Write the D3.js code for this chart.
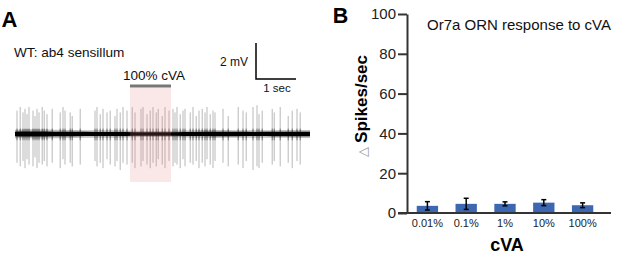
<!DOCTYPE html>
<html>
<head>
<meta charset="utf-8">
<script src="https://cdn.jsdelivr.net/npm/d3@7"></script>
<style>
  body { margin: 0; background: #fff; }
  text { font-family: "Liberation Sans", Arial, Helvetica, sans-serif; }
</style>
</head>
<body>
<script>
// ---- panel A: spike trace (times in sec, amplitudes in mV) ----
const spikeTimes = [
  0.05, 0.13, 0.20, 0.25, 0.30, 0.35, 0.45, 0.50, 0.55, 0.60,
  0.68, 0.73, 0.80, 0.93, 1.13, 1.20, 1.25, 1.38, 1.43, 1.63,
  2.00, 2.05, 2.13, 2.20, 2.30, 2.38, 2.50, 2.55, 2.63, 2.70,
  2.80, 2.93, 3.00, 3.15, 3.20, 3.30, 3.38, 3.45, 3.53, 3.58,
  3.68, 3.75, 3.85, 3.95, 4.00, 4.05, 4.13, 4.20, 4.25, 4.38,
  4.45, 4.53, 4.60, 4.68, 4.75, 4.80, 4.88, 4.95, 5.00, 5.20,
  5.33, 5.58, 5.70, 5.78, 5.95, 6.05, 6.10, 6.18, 6.43, 6.48,
  6.63, 6.83, 6.93, 7.05, 7.13
]
const spikeUp = [
  1.3, 1.5, 1.2, 1.4, 1.1, 1.5, 1.3, 1.0, 1.4, 1.2,
  1.5, 1.3, 1.1, 1.4, 1.2, 1.5, 1.3, 1.2, 1.0, 1.4,
  1.3, 1.5, 1.1, 1.4, 1.2, 1.3, 1.0, 1.4, 1.2, 1.5,
  1.3, 1.5, 1.2, 1.4, 1.5, 1.1, 1.3, 1.5, 1.2, 1.4,
  1.0, 1.5, 1.3, 1.4, 1.2, 1.5, 1.1, 1.3, 1.4, 1.2,
  1.5, 1.0, 1.3, 1.4, 1.2, 1.5, 1.1, 1.3, 1.2, 1.4,
  1.0, 1.5, 1.3, 1.2, 1.5, 1.6, 1.1, 1.3, 1.4, 1.2,
  1.5, 1.0, 1.3, 1.4, 1.2
]
const spikeDown = [
  1.6, 1.8, 1.5, 1.9, 1.4, 1.7, 1.8, 1.3, 1.9, 1.6,
  1.7, 1.5, 1.8, 1.6, 1.9, 1.4, 1.7, 1.6, 1.8, 1.7,
  1.5, 1.8, 1.6, 1.9, 1.4, 1.7, 1.8, 1.5, 2.0, 1.6,
  1.7, 1.6, 1.9, 1.8, 1.5, 1.7, 1.9, 1.6, 1.8, 1.4,
  1.7, 1.9, 1.5, 1.8, 1.6, 1.7, 1.9, 1.4, 1.8, 1.6,
  1.7, 1.5, 1.9, 1.6, 1.8, 1.4, 1.7, 1.9, 1.5, 1.6,
  1.8, 1.7, 1.9, 1.5, 2.0, 1.8, 1.9, 1.6, 1.7, 1.5,
  1.8, 1.6, 1.9, 1.5, 1.7
]
const noiseTimes = [0, 0.5, 1, 1.5, 2, 2.5, 3, 3.5, 4, 4.5, 5, 5.5, 6, 6.5, 7, 7.375]
const noiseAmp   = [0.13, 0.15, 0.13, 0.12, 0.11, 0.12, 0.1, 0.09, 0.1, 0.12, 0.12, 0.12, 0.11, 0.12, 0.12, 0.12]
const stimulus = [2.875, 3.9]   // 100% cVA, sec
const traceEnd = 7.375

// ---- panel B: bar chart ----
const concs = ['0.01%', '0.1%', '1%', '10%', '100%']
const deltaSpikes = [3.6, 4.6, 4.6, 5.2, 3.9]
const sem = [2.1, 2.8, 1.0, 1.5, 1.2]
const yTicks = [0, 20, 40, 60, 80, 100]

const svg = d3.select('body').append('svg')
    .attr('width', 617)
    .attr('height', 254)

// ============ A ============
const tScale = d3.scaleLinear().domain([0, traceEnd]).range([15, 310])
const vScale = d3.scaleLinear().domain([-2, 2]).range([170, 98])

svg.append('text').attr('x', 1.5).attr('y', 26.7)
    .attr('font-size', 22).attr('font-weight', 'bold').text('A')

svg.append('text').attr('x', 14).attr('y', 57)
    .attr('font-size', 13.6).attr('fill', '#111').text('WT: ab4 sensillum')

svg.append('text').attr('x', 123).attr('y', 80)
    .attr('font-size', 13.5).attr('fill', '#111').text('100% cVA')

// stimulus bar
svg.append('line')
    .attr('x1', tScale(stimulus[0])).attr('x2', tScale(stimulus[1]))
    .attr('y1', 86).attr('y2', 86)
    .attr('stroke', '#777').attr('stroke-width', 3)

const traceG = svg.append('g')

// baseline noise band
const band = d3.area()
    .x((d, i) => tScale(noiseTimes[i]))
    .y0(d => vScale(-d))
    .y1(d => vScale(d))
    .curve(d3.curveBasis)

traceG.append('path')
    .attr('d', band(noiseAmp.map(a => a * 1.8)))
    .attr('fill', '#000').attr('opacity', 0.25)
traceG.append('path')
    .attr('d', band(noiseAmp))
    .attr('fill', '#000')

// spikes
const spikeG = traceG.selectAll('g.spike')
    .data(spikeTimes)
    .join('g').attr('class', 'spike')

spikeG.append('line')
    .attr('x1', d => tScale(d)).attr('x2', d => tScale(d))
    .attr('y1', (d, i) => vScale(spikeUp[i]))
    .attr('y2', (d, i) => vScale(-spikeDown[i]))
    .attr('stroke', '#000').attr('stroke-opacity', 0.28).attr('stroke-width', 1)

spikeG.append('line')
    .attr('x1', d => tScale(d)).attr('x2', d => tScale(d))
    .attr('y1', vScale(0.3))
    .attr('y2', vScale(-0.35))
    .attr('stroke', '#000').attr('stroke-opacity', 0.45).attr('stroke-width', 1)

// odor window (tinted overlay)
svg.append('rect')
    .attr('x', tScale(stimulus[0])).attr('width', tScale(stimulus[1]) - tScale(stimulus[0]))
    .attr('y', 87.5).attr('height', 182 - 87.5)
    .attr('fill', 'rgb(230,120,120)').attr('opacity', 0.18)

// scale bar
const sbX = 256, sbY = 79
svg.append('path')
    .attr('d', `M${sbX},${sbY - (vScale(0) - vScale(2))}V${sbY}H${sbX + tScale(1) - tScale(0)}`)
    .attr('fill', 'none').attr('stroke', '#000').attr('stroke-width', 1.5)
svg.append('text').attr('x', 248).attr('y', 66).attr('text-anchor', 'end')
    .attr('font-size', 12).attr('fill', '#111').text('2 mV')
svg.append('text').attr('x', 277).attr('y', 92).attr('text-anchor', 'middle')
    .attr('font-size', 11.5).attr('fill', '#111').text('1 sec')

// ============ B ============
const x = d3.scaleBand().domain(concs).range([408, 602])
    .paddingInner(0.45).paddingOuter(0.225)
const y = d3.scaleLinear().domain([0, 100]).range([213, 14])

svg.append('text').attr('x', 332.7).attr('y', 22.7)
    .attr('font-size', 21.5).attr('font-weight', 'bold').text('B')

svg.append('text').attr('x', 427).attr('y', 30)
    .attr('font-size', 15).attr('fill', '#111').text('Or7a ORN response to cVA')

// bars
svg.append('g').selectAll('rect')
    .data(deltaSpikes)
    .join('rect')
    .attr('x', (d, i) => x(concs[i]))
    .attr('width', x.bandwidth())
    .attr('y', d => y(d))
    .attr('height', d => y(0) - y(d))
    .attr('fill', '#3e67b1')

// error bars
const errG = svg.append('g').attr('stroke', '#000').attr('stroke-width', 1.5)
deltaSpikes.forEach((d, i) => {
    const cx = x(concs[i]) + x.bandwidth() / 2
    errG.append('line').attr('x1', cx).attr('x2', cx)
        .attr('y1', y(d - sem[i])).attr('y2', y(d + sem[i]))
    ;[d - sem[i], d + sem[i]].forEach(v => {
        errG.append('line').attr('x1', cx - 2.5).attr('x2', cx + 2.5)
            .attr('y1', y(v)).attr('y2', y(v))
    })
})

// y axis
const yAxis = svg.append('g')
    .attr('transform', 'translate(407,0)')
    .call(d3.axisLeft(y).tickValues(yTicks).tickSize(9).tickSizeOuter(0).tickPadding(2))
yAxis.selectAll('path, line').attr('stroke', '#333').attr('stroke-width', 2)
yAxis.selectAll('text')
    .attr('font-size', 15).attr('fill', '#222')
    .style('font-family', '"Liberation Sans", Arial, sans-serif')

// x axis
const xAxis = svg.append('g')
    .attr('transform', 'translate(0,213)')
    .call(d3.axisBottom(x).tickSize(0).tickPadding(6.5))
xAxis.select('.domain').remove()
xAxis.selectAll('text')
    .attr('font-size', 11).attr('fill', '#222')
    .style('font-family', '"Liberation Sans", Arial, sans-serif')
svg.append('line').attr('x1', 398).attr('x2', 611).attr('y1', 213).attr('y2', 213)
    .attr('stroke', '#333').attr('stroke-width', 2)

svg.append('text').attr('x', 507).attr('y', 251).attr('text-anchor', 'middle')
    .attr('font-size', 18).attr('font-weight', 'bold').text('cVA')

const yLab = svg.append('text')
    .attr('transform', 'translate(367,106) rotate(-90)')
    .attr('text-anchor', 'middle')
yLab.append('tspan').attr('font-size', 13).attr('fill', '#999')
    .style('font-family', '"DejaVu Sans", sans-serif').text('\u25B3 ')
yLab.append('tspan').attr('font-size', 17).attr('font-weight', 'bold').text('Spikes/sec')
</script>
</body>
</html>
